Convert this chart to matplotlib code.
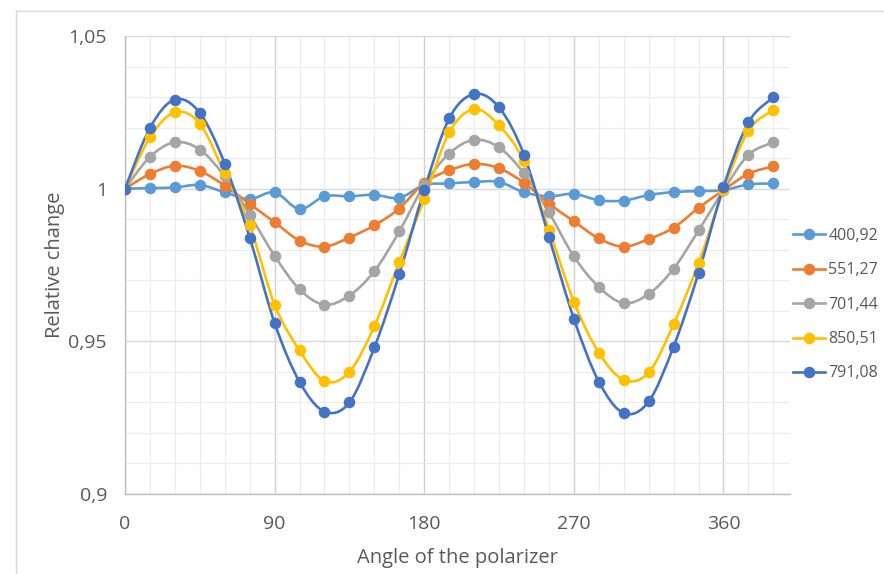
import matplotlib
matplotlib.use('Agg')
import matplotlib.pyplot as plt
from matplotlib.path import Path
from matplotlib.patches import PathPatch
from matplotlib.lines import Line2D
from matplotlib.ticker import MultipleLocator, FuncFormatter

plt.rcParams['font.family'] = ['Open Sans', 'DejaVu Sans']

# angle of the polarizer (degrees)
angles = [0, 15, 30, 45, 60, 75, 90, 105, 120, 135, 150, 165, 180, 195, 210,
          225, 240, 255, 270, 285, 300, 315, 330, 345, 360, 375, 390]

# relative change per wavelength
s400 = [1.000, 1.0002, 1.0004, 1.0012, 0.9988, 0.9966, 0.9988, 0.9933, 0.9975,
        0.9975, 0.9980, 0.9970, 1.0012, 1.0017, 1.0022, 1.0022, 0.9988, 0.9975,
        0.9983, 0.9962, 0.9961, 0.9979, 0.9989, 0.9992, 0.9995, 1.0014, 1.0017]
s551 = [1.000, 1.0048, 1.0075, 1.0058, 1.0010, 0.9950, 0.9890, 0.9830, 0.9810,
        0.9840, 0.9880, 0.9935, 1.0019, 1.0060, 1.0081, 1.0067, 1.0019, 0.9951,
        0.9893, 0.9837, 0.9810, 0.9835, 0.9872, 0.9937, 0.9995, 1.0049, 1.0073]
s701 = [1.000, 1.0104, 1.0152, 1.0128, 1.0040, 0.9915, 0.9780, 0.9670, 0.9620,
        0.9650, 0.9730, 0.9860, 1.0012, 1.0115, 1.0160, 1.0135, 1.0050, 0.9922,
        0.9778, 0.9678, 0.9625, 0.9655, 0.9738, 0.9863, 0.9995, 1.0111, 1.0152]
s850 = [1.000, 1.0168, 1.0250, 1.0213, 1.0050, 0.9880, 0.9620, 0.9470, 0.9370,
        0.9400, 0.9550, 0.9760, 0.9965, 1.0184, 1.0260, 1.0207, 1.0090, 0.9866,
        0.9630, 0.9463, 0.9374, 0.9398, 0.9556, 0.9756, 0.9995, 1.0190, 1.0257]
s791 = [1.000, 1.0199, 1.0292, 1.0248, 1.0082, 0.9840, 0.9560, 0.9367, 0.9270,
        0.9300, 0.9480, 0.9720, 0.9996, 1.0230, 1.0310, 1.0266, 1.0111, 0.9842,
        0.9574, 0.9368, 0.9265, 0.9303, 0.9483, 0.9724, 1.0006, 1.0217, 1.0299]

labels = ['400,92', '551,27', '701,44', '850,51', '791,08']
colors = ['#5B9BD5', '#ED7D31', '#A5A5A5', '#FFC000', '#4472C4']
series = [s400, s551, s701, s850, s791]

text_color = '#595959'


def smooth_path(xs, ys):
    # Excel-like smoothed line: Catmull-Rom segments as cubic Bezier curves
    verts = [(xs[0], ys[0])]
    codes = [Path.MOVETO]
    n = len(xs)
    for i in range(n - 1):
        i0 = max(i - 1, 0)
        i3 = min(i + 2, n - 1)
        c1 = (xs[i] + (xs[i + 1] - xs[i0]) / 6, ys[i] + (ys[i + 1] - ys[i0]) / 6)
        c2 = (xs[i + 1] - (xs[i3] - xs[i]) / 6, ys[i + 1] - (ys[i3] - ys[i]) / 6)
        verts += [c1, c2, (xs[i + 1], ys[i + 1])]
        codes += [Path.CURVE4] * 3
    return Path(verts, codes)


fig = plt.figure(figsize=(8.84, 5.74), dpi=100)
ax = fig.add_axes([125 / 884, 80 / 574, 665 / 884, 458 / 574])

ax.set_xlim(0, 400)
ax.set_ylim(0.9, 1.05)

for vals, col in zip(series, colors):
    ax.add_patch(PathPatch(smooth_path(angles, vals), fill=False,
                           edgecolor=col, linewidth=1.9, zorder=3))
    ax.plot(angles, vals, linestyle='none', marker='o', markersize=7.3,
            color=col, zorder=4)

# grid
ax.xaxis.set_major_locator(MultipleLocator(90))
ax.xaxis.set_minor_locator(MultipleLocator(15))
ax.yaxis.set_major_locator(MultipleLocator(0.05))
ax.yaxis.set_minor_locator(MultipleLocator(0.01))
ax.grid(which='major', axis='x', color='#cfcfcf', linewidth=1.0)
ax.grid(which='major', axis='y', color='#d9d9d9', linewidth=1.0)
ax.grid(which='minor', color='#ececec', linewidth=0.9)
ax.set_axisbelow(True)

ax.yaxis.set_major_formatter(FuncFormatter(lambda v, p: ('%g' % round(v, 2)).replace('.', ',')))
ax.tick_params(which='both', length=0, labelsize=14, labelcolor=text_color)
ax.tick_params(axis='y', pad=13)
ax.tick_params(axis='x', pad=15)

for side in ['top', 'right']:
    ax.spines[side].set_visible(False)
for side in ['left', 'bottom']:
    ax.spines[side].set_color('#bfbfbf')
    ax.spines[side].set_linewidth(1.0)

ax.set_xlabel('Angle of the polarizer', fontsize=14.5, color=text_color)
ax.xaxis.set_label_coords(0.5, (494 - 548) / 458)
fig.text(55 / 884, 1 - 265 / 574, 'Relative change', rotation=90,
         ha='center', va='center', fontsize=14.5, color=text_color)

handles = [Line2D([], [], color=c, linewidth=1.9, marker='o', markersize=7.3)
           for c in colors]
fig.legend(handles, labels, loc='upper left',
           bbox_to_anchor=(793 / 884, 1 - 228 / 574), frameon=False,
           fontsize=11.5, labelcolor=text_color, handlelength=2.0,
           handletextpad=0.2, labelspacing=1.15, borderpad=0, borderaxespad=0)

# outer chart frame
fig.add_artist(Line2D([16 / 884, 16 / 884], [0, 1 - 11 / 574],
                      transform=fig.transFigure, color='#d9d9d9', linewidth=1))
fig.add_artist(Line2D([16 / 884, 1], [1 - 11 / 574, 1 - 11 / 574],
                      transform=fig.transFigure, color='#d9d9d9', linewidth=1))

fig.savefig('out.png', dpi=100)
